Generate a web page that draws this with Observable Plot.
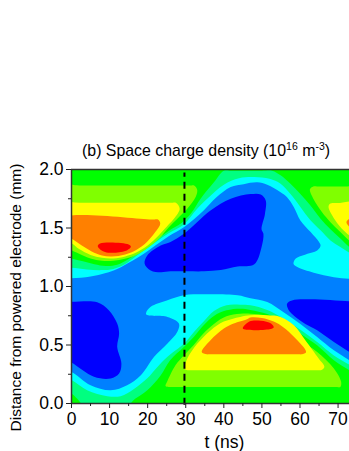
<!DOCTYPE html>
<html>
<head>
<meta charset="utf-8">
<script src="https://cdn.jsdelivr.net/npm/d3@7"></script>
<script src="https://cdn.jsdelivr.net/npm/@observablehq/plot@0.6"></script>
<style>html,body{margin:0;padding:0;background:#fff}svg{display:block}</style>
</head>
<body>
<script>
const xTicks = [0,10,20,30,40,50,60,70];
const xMinor = [5,15,25,35,45,55,65];
const yTicks = [0,0.5,1,1.5,2];
const yMinor = [0.25,0.75,1.25,1.75];
const xLabel = "t (ns)";
const yLabel = "Distance from powered electrode (mm)";
const probeTime = 29.66;

// Contour regions as [t (ns), distance (mm)] outlines
const cyanLow = [[-3,.30],[0,.27],[5,.157],[10.3,.114],[14.6,.157],[18.2,.242],[21.7,.40],[25.2,.513],[27.8,.613],[28.2,.684],[25.2,.74],[19.6,.763],[20.8,.826],[25.2,.883],[29.5,.926],[34.8,.934],[43.6,.926],[47,.90],[51.4,.868],[55.7,.78],[60.1,.68],[64.5,.569],[68.9,.455],[73,.37],[76,.31],[76,-.1],[-3,-.1]];
const cyanHigh = [[-3,1.07],[0,1.07],[5,1.085],[9,1.115],[12,1.15],[16,1.22],[19,1.28],[22,1.35],[25.5,1.43],[29.5,1.507],[34.7,1.65],[38,1.76],[41.8,1.85],[45.2,1.875],[48.8,1.89],[51.4,1.87],[54.9,1.806],[56.6,1.763],[58.4,1.678],[60.1,1.565],[62.8,1.465],[65,1.38],[65.4,1.35],[64.6,1.31],[61.1,1.27],[58.9,1.24],[58.3,1.195],[59.3,1.166],[63.6,1.118],[68.9,1.08],[73,1.066],[76,1.066],[76,2.1],[-3,2.1]];
const springLow = [[-3,.24],[0,.2],[4.1,.114],[9.4,.063],[12.9,.063],[16.4,.125],[19.9,.215],[22.5,.31],[25.2,.40],[28,.47],[29.5,.51],[32.1,.61],[34.7,.70],[37.4,.79],[40.7,.84],[44.3,.845],[47,.84],[51.4,.80],[55.7,.725],[60.1,.63],[64.5,.525],[68.9,.41],[73,.33],[76,.27],[76,-.1],[-3,-.1]];
const springHigh = [[-3,1.16],[0,1.16],[4,1.145],[8,1.14],[11,1.15],[14,1.19],[17,1.26],[20,1.33],[23,1.40],[25.5,1.455],[29.5,1.53],[33,1.665],[36,1.76],[40,1.87],[44,1.925],[48,1.935],[52,1.92],[54.9,1.878],[57.5,1.79],[60.1,1.68],[62.8,1.564],[65.4,1.48],[68,1.394],[70.6,1.337],[73,1.288],[76,1.24],[76,2.1],[-3,2.1]];
const greenLow = [[-3,.14],[0,.085],[1.5,.04],[3,-.01],[5,-.01],[13,-.01],[15,-.01],[16.7,.04],[19.9,.114],[23.4,.24],[25.9,.37],[29.5,.483],[32.1,.569],[34.7,.668],[37.4,.748],[40.7,.796],[44.3,.81],[47,.80],[51.4,.765],[55.7,.697],[60.1,.597],[64.5,.498],[68.9,.37],[73,.284],[76,.23],[76,-.1],[-3,-.1]];
const greenHigh = [[-3,1.26],[0,1.24],[3,1.215],[6,1.19],[9,1.175],[12,1.185],[15,1.235],[18,1.30],[21,1.37],[25.5,1.475],[28.8,1.54],[31.5,1.63],[33.9,1.75],[37.4,1.89],[40,1.99],[42,1.99],[50,1.99],[52.7,1.99],[54.9,1.95],[57.5,1.878],[60.1,1.79],[62.8,1.69],[65.4,1.58],[68,1.49],[70.6,1.41],[73,1.337],[76,1.28],[76,2.1],[-3,2.1]];
const limeLow = [[24.7,.15],[25.1,.185],[27.3,.327],[29.5,.41],[32.1,.50],[34.7,.6],[37.4,.68],[40.7,.745],[44.3,.767],[47,.768],[51.4,.748],[55.7,.668],[60,.54],[64.5,.44],[68.9,.30],[70.8,.185],[70.6,.142],[69.5,.142],[27,.142],[25.5,.142]];
const limeHighLeft = [[-3,1.35],[0,1.31],[2,1.28],[5,1.24],[8,1.22],[11,1.22],[14,1.237],[17,1.27],[20,1.33],[23,1.41],[25.5,1.505],[27.8,1.58],[30.4,1.664],[32.6,1.764],[33,1.826],[32.2,1.863],[31,1.863],[2,1.863],[-3,1.863]];
const limeHighRight = [[76,1.31],[73,1.39],[70.6,1.465],[68,1.55],[65.8,1.635],[63.5,1.75],[62.6,1.83],[63.5,1.855],[64.5,1.855],[72,1.855],[76,1.855]];
const yellowLow = [[29.5,.30],[29.8,.33],[30.5,.39],[33,.51],[36.5,.625],[40,.70],[44.3,.74],[47,.754],[51.4,.754],[54.9,.74],[58.4,.668],[61.4,.54],[64.9,.384],[66.4,.313],[65.5,.285],[64.5,.285],[31.5,.285],[30.5,.285]];
const yellowHighLeft = [[-3,1.41],[0,1.37],[2,1.32],[5,1.27],[8,1.245],[11,1.24],[14.1,1.257],[17,1.29],[20,1.35],[23,1.44],[25.5,1.53],[26.9,1.58],[28.4,1.664],[27.4,1.715],[26,1.715],[2,1.715],[-3,1.715]];
const yellowHighRight = [[76,1.36],[73,1.435],[71.4,1.48],[69.3,1.565],[67.5,1.678],[67.8,1.705],[68.8,1.713],[70,1.713],[76,1.713]];
const orangeLow = [[34.2,.44],[36.5,.54],[40,.64],[42.6,.683],[46.1,.72],[47,.734],[50,.73],[53.1,.70],[55.7,.65],[58.4,.57],[61.6,.44],[60.5,.42],[59.5,.42],[36.5,.42],[35.5,.42]];
const orangeHighLeft = [[-3,1.58],[21,1.572],[22.8,1.571],[23.3,1.536],[22,1.465],[19.8,1.38],[17.1,1.314],[14.1,1.274],[10.6,1.257],[8,1.265],[5.3,1.30],[2.7,1.35],[0,1.41],[-3,1.46]];
const orangeHighRight = [[76,1.62],[73,1.58],[72.2,1.55],[73,1.51],[76,1.47]];
const redLow = [[45,.64],[46.7,.70],[49.7,.707],[52.4,.684],[53.1,.65],[52,.635]];
const redHigh = [[6.9,1.345],[7.5,1.368],[15,1.36],[15.6,1.34],[14.1,1.303],[8.8,1.295]];
const navyLeft = [[-3,.869],[0,.869],[6.75,.866],[9.8,.798],[12,.684],[12.5,.598],[12,.484],[13.1,.342],[12.5,.256],[10.3,.214],[5.9,.228],[0,.35],[-3,.40]];
const navyCenter = [[19.2,1.194],[19.9,1.265],[23.4,1.35],[26,1.38],[29.5,1.45],[36.5,1.65],[41.8,1.75],[47,1.79],[49.7,1.786],[51,1.735],[50.8,1.62],[49.9,1.49],[50.4,1.45],[49.9,1.336],[48,1.19],[43.6,1.17],[39.2,1.14],[34.8,1.13],[30.4,1.13],[26,1.13],[23.4,1.122],[20.8,1.137]];
const navyRight = [[56.6,.853],[57.9,.881],[62.7,.89],[73,.873],[76,.87],[76,.38],[73,.44],[68.9,.526],[64.5,.626],[61.4,.68],[58.8,.74],[57,.8]];
const background = [[-3,-.1],[76,-.1],[76,2.1],[-3,2.1]];

const layers = [
  [background,"#0080ff"],
  [navyLeft,"#0000ff"],[navyCenter,"#0000ff"],[navyRight,"#0000ff"],
  [cyanLow,"#00ffff"],[cyanHigh,"#00ffff"],
  [springLow,"#00ff80"],[springHigh,"#00ff80"],
  [greenLow,"#00ff00"],[greenHigh,"#00ff00"],
  [limeLow,"#80ff00"],[limeHighLeft,"#80ff00"],[limeHighRight,"#80ff00"],
  [yellowLow,"#ffff00"],[yellowHighLeft,"#ffff00"],[yellowHighRight,"#ffff00"],
  [orangeLow,"#ff8000"],[orangeHighLeft,"#ff8000"],[orangeHighRight,"#ff8000"],
  [redLow,"#ff0000"],[redHigh,"#ff0000"]
];

const noLabel = () => "";
const plot = Plot.plot({
  width: 349, height: 451,
  marginLeft: 71, marginRight: 0, marginTop: 169, marginBottom: 48,
  style: {fontFamily: "'Liberation Sans', Arial, sans-serif", background: "#fff", color: "#000", overflow: "visible"},
  x: {domain: [0,73]},
  y: {domain: [0,2]},
  marks: [
    ...layers.map(([pts,c]) => Plot.line(pts, {x: d=>d[0], y: d=>d[1], fill: c, stroke: "none", curve: "catmull-rom-closed", clip: "frame"})),
    Plot.ruleX([probeTime], {y1: -0.015, y2: 1.97, stroke: "#000", strokeWidth: 2, strokeDasharray: "7,5"}),
    Plot.ruleX([0], {stroke: "#333", strokeWidth: 1.5}),
    Plot.ruleY([0,2], {stroke: "#333", strokeWidth: 1.5}),
    Plot.axisX({ticks: xTicks, tickSize: 5, tickPadding: 4, fontSize: 17.5, label: null, stroke: "#222"}),
    Plot.axisX({ticks: xMinor, tickSize: 3, tickFormat: noLabel, label: null, stroke: "#222"}),
    Plot.axisY({ticks: yTicks, tickSize: 5, tickPadding: 3, fontSize: 17.5, tickFormat: d3.format(".1f"), label: null, stroke: "#222"}),
    Plot.axisY({ticks: yMinor, tickSize: 3, tickFormat: noLabel, label: null, stroke: "#222"}),
    Plot.text([xLabel], {frameAnchor: "bottom", dy: 44, dx: 14, fontSize: 17.5, fill: "#000"}),
    Plot.text([yLabel], {frameAnchor: "left", textAnchor: "middle", dx: -55, dy: 11, rotate: -90, fontSize: 15.5, fill: "#000"})
  ]
});
const title = d3.select(plot).append("text")
  .attr("x", 82).attr("y", 156).attr("font-size", 15.9).attr("fill", "#000").attr("text-anchor", "start");
title.append("tspan").text("(b) Space charge density (10");
title.append("tspan").attr("dy", -6).attr("font-size", 10.5).text("16");
title.append("tspan").attr("dy", 6).text(" m");
title.append("tspan").attr("dy", -6).attr("font-size", 10.5).text("-3");
title.append("tspan").attr("dy", 6).text(")");
document.body.append(plot);
</script>
</body>
</html>
